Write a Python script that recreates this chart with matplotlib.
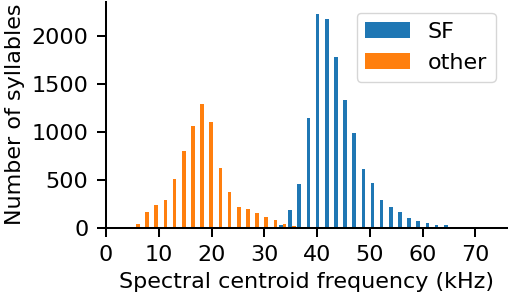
import numpy as np
import matplotlib
matplotlib.use('Agg')
import matplotlib.pyplot as plt

# Histogram counts (36 bins, ~1.74 kHz wide)
bin_start, bin_stop, n_bins = 4.85, 67.35, 36
sf_counts = [0, 0, 0, 0, 0, 0, 0, 0, 0, 0, 0, 0, 0, 0, 0, 0,
             26, 183, 454, 1140, 2227, 2181, 1778, 1332, 984, 614,
             460, 284, 211, 160, 99, 71, 42, 21, 24, 10]
other_counts = [33, 157, 240, 290, 507, 797, 1057, 1290, 1097, 625,
                369, 217, 190, 151, 107, 76, 40, 16,
                0, 0, 0, 0, 0, 0, 0, 0, 0, 0, 0, 0, 0, 0, 0, 0, 0, 0]
labels = ['SF', 'other']
colors = ['#1f77b4', '#ff7f0e']

edges = np.linspace(bin_start, bin_stop, n_bins + 1)
centers = (edges[:-1] + edges[1:]) / 2

plt.rcParams['font.family'] = 'DejaVu Sans'
plt.rcParams['font.size'] = 16
plt.rcParams['axes.linewidth'] = 1.45
plt.rcParams['xtick.major.size'] = 6.7
plt.rcParams['ytick.major.size'] = 6.7
plt.rcParams['xtick.major.width'] = 1.45
plt.rcParams['ytick.major.width'] = 1.45
plt.rcParams['xtick.major.pad'] = 6.0
plt.rcParams['ytick.major.pad'] = 6.0

fig = plt.figure(figsize=(5.10, 2.98), dpi=100)
ax = fig.add_axes([106 / 510, 70.5 / 298, 401 / 510, 226 / 298])

ax.hist([centers, centers], bins=edges, weights=[sf_counts, other_counts],
        color=colors, label=labels)

ax.set_xlim(0, 76)
ax.set_ylim(0, 2360)
ax.set_xticks([0, 10, 20, 30, 40, 50, 60, 70])
ax.set_yticks([0, 500, 1000, 1500, 2000])
ax.spines['top'].set_visible(False)
ax.spines['right'].set_visible(False)
ax.set_xlabel('Spectral centroid frequency (kHz)', labelpad=5)
ax.set_ylabel('Number of syllables', labelpad=5)
ax.legend(loc='upper right')

fig.savefig('out.png', dpi=100)
